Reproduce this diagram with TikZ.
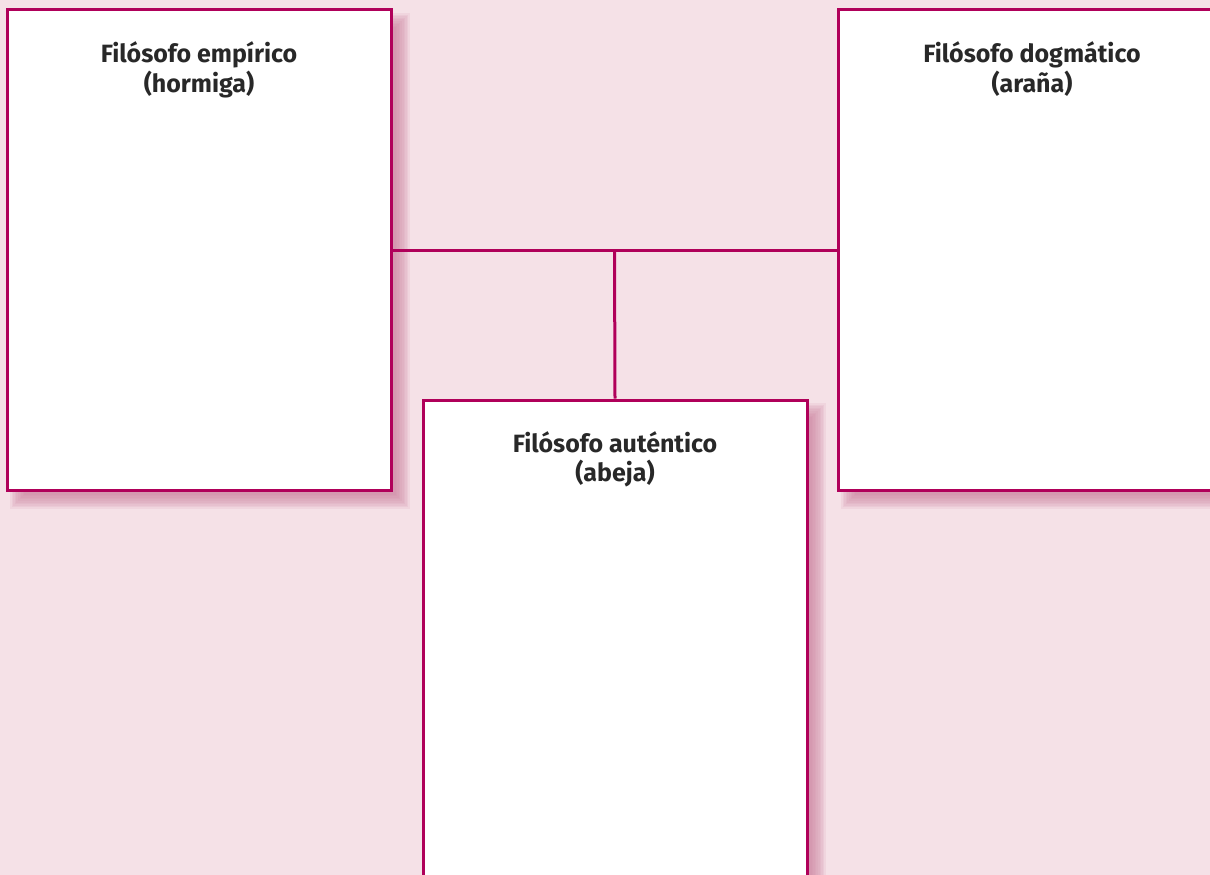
\documentclass[tikz,border=0pt]{standalone}
\usepackage{fontspec}
\usetikzlibrary{calc}
\newfontfamily\handfont{Fira Sans}
\definecolor{bg}{RGB}{245,225,231}
\definecolor{mag}{RGB}{176,0,90}
\definecolor{shad}{RGB}{206,130,158}
\definecolor{txt}{RGB}{40,40,40}
\tikzset{
  box/.style={draw=mag, line width=3pt, fill=white, rectangle, inner sep=0pt},
  conn/.style={draw=mag, line width=3pt},
  label/.style={font=\handfont\bfseries\fontsize{25}{27}\selectfont, text=txt, align=center, inner sep=0pt},
}
\newcommand{\softshadow}[4]{% x1,y1,x2,y2
  \foreach \i in {0,...,9}{
    \fill[shad, opacity=0.12] (#1+11-8+\i*1.6,#2+11-8+\i*1.6) rectangle (#3+11+8-\i*1.6,#4+11+8-\i*1.6);
  }
}
\begin{document}
\begin{tikzpicture}[x=1pt,y=-1pt]
\fill[bg] (0,0) rectangle (1210,875);
\useasboundingbox (0,0) rectangle (1210,875);
\clip (0,0) rectangle (1210,875);
% shadows
\softshadow{7}{10}{391}{490}
\softshadow{838}{10}{1226}{490}
\softshadow{423}{400}{807}{890}
% boxes
\node[box, minimum width=384pt, minimum height=480pt] (b1) at (199,250) {};
\node[box, minimum width=388pt, minimum height=480pt] (b2) at (1032,250) {};
\node[box, minimum width=384pt, minimum height=490pt] (b3) at (615,645) {};
% connectors
\coordinate (j) at ($(b1.east)!0.5!(b2.west)$);
\draw[conn] (b1.east) -- (b2.west);
\draw[conn] (j) -- (b3.north);
% labels
\node[label] (t1) at ([yshift=-61pt]b1.north) {Filósofo empírico\\[2pt](hormiga)};
\node[label] (t2) at ([yshift=-61pt]b2.north) {Filósofo dogmático\\[2pt](araña)};
\node[label] (t3) at ([yshift=-61pt]b3.north) {Filósofo auténtico\\[2pt](abeja)};
\end{tikzpicture}
\end{document}
